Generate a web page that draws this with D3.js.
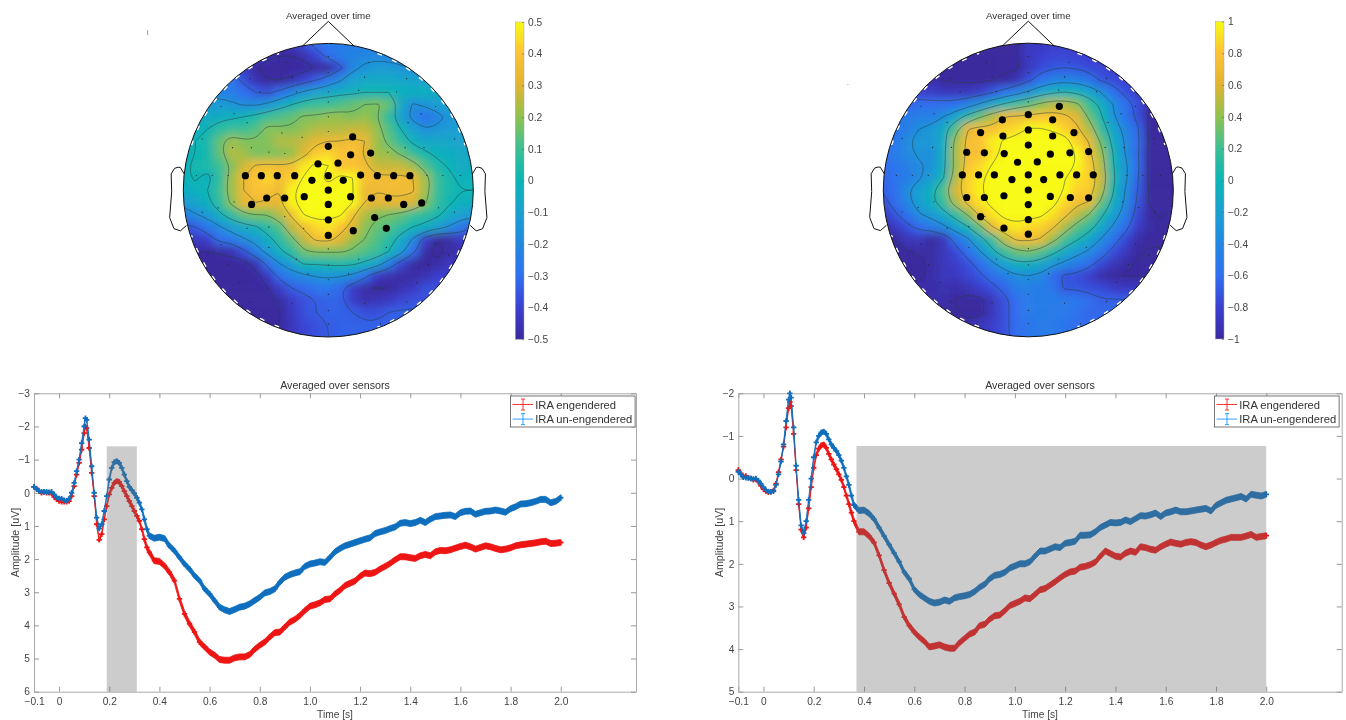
<!DOCTYPE html>
<html>
<head>
<meta charset="utf-8">
<script src="https://cdn.jsdelivr.net/npm/d3@7"></script>
<style>
  html, body { margin: 0; padding: 0; background: #fff; }
  svg { display: block; filter: blur(0.35px); }
  text { font-family: "Liberation Sans", Arial, sans-serif; fill: #444; }
</style>
</head>
<body>
<svg id="chart" width="1346" height="720"></svg>
<script>
// sample times of the averaged curves [s]
const timeSec = [-0.1,-0.09,-0.08,-0.07,-0.06,-0.05,-0.04,-0.03,-0.02,-0.01,0,0.01,0.02,0.03,0.04,0.05,0.06,0.07,0.08,0.09,0.1,0.105,
  0.11,0.12,0.13,0.14,0.15,0.16,0.17,0.18,0.19,0.2,0.21,0.22,0.23,0.24,0.25,0.26,0.27,0.28,0.29,0.3,0.31,0.32,0.33,0.34,0.35,0.36,
  0.38,0.4,0.42,0.44,0.46,0.48,0.5,0.52,0.54,0.56,0.58,0.6,0.62,0.64,0.66,0.68,0.7,0.72,0.74,0.76,0.78,0.8,0.82,0.84,0.86,0.88,0.9,0.92,0.94,0.96,0.98,1,1.02,1.04,1.06,1.08,1.1,
  1.12,1.14,1.16,1.18,1.2,1.22,1.24,1.26,1.28,1.3,1.32,1.34,1.36,1.38,1.4,1.42,1.44,1.46,1.48,1.5,1.52,1.54,1.56,1.58,1.6,1.62,1.64,1.66,1.68,1.7,1.72,1.74,1.76,1.78,1.8,1.82,1.84,1.86,1.88,1.9,1.92,1.94,1.96,1.98,2];

const leftRedAmp = [-0.18,-0.13,-0.05,0,-0.02,0,0,0.02,0.12,0.2,0.25,0.27,0.27,0.27,0.25,0.1,-0.2,-0.55,-0.9,-1.3,-1.8,-2,
  -1.95,-1.35,-0.6,0.1,0.95,1.42,1.25,0.8,0.4,0.05,-0.15,-0.3,-0.35,-0.33,-0.2,-0.05,0.1,0.25,0.4,0.55,0.7,0.85,1.1,1.4,1.65,1.8,
  2.05,2.07,2.2,2.4,2.65,3.2,3.65,3.95,4.2,4.5,4.65,4.8,4.9,5.03,5.05,5.05,4.98,4.95,4.95,4.88,4.72,4.6,4.5,4.35,4.22,4.2,4.05,3.9,3.82,3.7,3.55,3.42,3.38,3.32,3.22,3.2,3.05,
  2.94,2.8,2.73,2.66,2.52,2.42,2.44,2.4,2.3,2.22,2.13,2.02,1.93,1.93,1.96,1.98,1.9,1.86,1.9,1.78,1.74,1.75,1.72,1.67,1.62,1.58,1.63,1.7,1.65,1.6,1.63,1.68,1.72,1.7,1.66,1.6,1.57,1.55,1.53,1.51,1.48,1.46,1.53,1.52,1.5];

const leftBlueAmp = [-0.18,-0.12,-0.05,-0.03,-0.03,-0.03,-0.02,-0.03,0.05,0.14,0.17,0.18,0.22,0.24,0.18,0,-0.3,-0.65,-1,-1.5,-2,-2.25,
  -2.2,-1.6,-0.8,0,0.75,1.08,0.95,0.55,0.1,-0.4,-0.75,-0.92,-0.95,-0.9,-0.75,-0.55,-0.35,-0.18,-0.08,0.02,0.15,0.3,0.5,0.8,1.1,1.3,
  1.37,1.34,1.38,1.6,1.75,1.95,2.15,2.3,2.5,2.65,2.9,3.05,3.25,3.45,3.53,3.58,3.52,3.45,3.42,3.35,3.25,3.15,3.02,2.98,2.9,2.7,2.55,2.47,2.42,2.38,2.22,2.15,2.12,2.08,2.1,1.95,1.78,
  1.68,1.6,1.55,1.5,1.45,1.4,1.36,1.23,1.18,1.14,1.08,1.03,0.92,0.9,0.93,0.9,0.83,0.9,0.8,0.72,0.7,0.68,0.67,0.72,0.6,0.56,0.55,0.65,0.6,0.56,0.55,0.52,0.55,0.59,0.48,0.42,0.34,0.33,0.3,0.26,0.2,0.2,0.3,0.26,0.15];

const rightRedAmp = [-0.2,-0.12,-0.05,-0.06,-0.02,0,0.03,0.02,0.08,0.17,0.25,0.3,0.32,0.31,0.28,0.12,-0.15,-0.45,-0.75,-1.2,-1.65,-1.8,
  -1.7,-1.05,-0.2,0.6,1.2,1.38,1.15,0.7,0.2,-0.25,-0.55,-0.7,-0.78,-0.8,-0.72,-0.58,-0.45,-0.33,-0.22,-0.1,0.03,0.2,0.4,0.6,0.8,1,
  1.25,1.25,1.35,1.5,1.8,2.15,2.45,2.7,2.95,3.25,3.45,3.6,3.72,3.82,3.95,3.93,3.9,3.95,3.98,3.98,3.85,3.75,3.65,3.6,3.45,3.42,3.3,3.22,3.2,3.1,2.98,2.93,2.88,2.8,2.82,2.72,2.61,
  2.58,2.5,2.42,2.33,2.25,2.19,2.17,2.08,2.06,2.02,1.96,1.82,1.7,1.76,1.82,1.84,1.75,1.7,1.73,1.6,1.62,1.66,1.68,1.6,1.54,1.49,1.52,1.54,1.5,1.48,1.5,1.56,1.6,1.56,1.5,1.45,1.42,1.38,1.38,1.38,1.35,1.31,1.38,1.36,1.34];

const rightBlueAmp = [-0.16,-0.1,-0.03,-0.02,-0.01,0,0.01,0,0.05,0.12,0.2,0.27,0.3,0.31,0.3,0.15,-0.1,-0.4,-0.8,-1.35,-1.85,-2,
  -1.9,-1.2,-0.3,0.5,1.1,1.28,1,0.5,0,-0.5,-0.85,-1,-1.08,-1.1,-1.05,-0.92,-0.8,-0.72,-0.65,-0.55,-0.42,-0.25,-0.05,0.15,0.4,0.62,
  0.75,0.74,0.82,0.95,1.15,1.35,1.55,1.75,1.95,2.2,2.35,2.6,2.72,2.8,2.88,2.92,2.9,2.85,2.88,2.8,2.77,2.75,2.72,2.65,2.55,2.48,2.35,2.27,2.25,2.2,2.1,2.05,2,2,1.95,1.82,1.7,
  1.7,1.65,1.6,1.62,1.52,1.5,1.47,1.33,1.33,1.32,1.25,1.15,1.09,1.03,1.04,1.03,0.97,1.01,0.94,0.87,0.88,0.85,0.81,0.89,0.81,0.78,0.74,0.78,0.78,0.76,0.74,0.72,0.7,0.76,0.63,0.57,0.51,0.48,0.45,0.42,0.48,0.37,0.39,0.41,0.37];

// half width of the error bars, stepping at errBreaks [s]
const errBreaks = [0.08, 0.2, 0.34];
const leftErr = [0.03, 0.05, 0.07, 0.09];
const rightErr = [0.025, 0.04, 0.055, 0.07];

const seriesNames = ["IRA engendered", "IRA un-engendered"];
const seriesColors = ["#ee1515", "#0f6fbe"];

const xTicks = [-0.1,0,0.2,0.4,0.6,0.8,1,1.2,1.4,1.6,1.8,2];
const leftYTicks = [-3,-2,-1,0,1,2,3,4,5,6];
const rightYTicks = [-2,-1,0,1,2,3,4,5];
const leftBarTicks = [0.5,0.4,0.3,0.2,0.1,0,-0.1,-0.2,-0.3,-0.4,-0.5];
const rightBarTicks = [1,0.8,0.6,0.4,0.2,0,-0.2,-0.4,-0.6,-0.8,-1];

// scalp maps, values read on a 25x25 grid over the head square (hundredths of uV)
const leftMap = [
  [-35,-35,-35,-35,-35,-35,-35,-35,-35,-35,-30,-25,-22,-20,-20,-20,-20,-20,-20,-20,-20,-20,-20,-20,-20],
  [-35,-35,-35,-35,-35,-35,-35,-38,-42,-42,-38,-32,-25,-20,-18,-17,-17,-18,-20,-20,-20,-20,-20,-20,-20],
  [-35,-35,-35,-35,-35,-35,-42,-48,-50,-50,-47,-42,-42,-30,-17,-12,-10,-10,-12,-15,-18,-18,-18,-18,-18],
  [-25,-25,-25,-25,-22,-30,-38,-42,-42,-38,-33,-28,-22,-15,-8,-5,-5,-5,-6,-7,-8,-10,-10,-10,-10],
  [-18,-18,-18,-18,-20,-25,-28,-30,-25,-18,-12,-8,-5,-3,-2,0,0,0,-2,-3,-2,-5,-8,-8,-8],
  [-10,-10,-10,-10,-12,-15,-15,-12,-5,0,5,8,8,10,12,14,15,12,-5,-15,-12,-8,-8,-8,-8],
  [-8,-5,-5,-3,-2,0,3,8,10,12,15,15,17,17,15,17,14,5,-8,-17,-24,-18,-12,-10,-10],
  [-5,-3,0,5,8,8,10,16,15,15,17,20,20,20,22,22,17,10,0,-8,-14,-12,-10,-8,-8],
  [-3,0,3,12,18,15,15,15,20,20,22,26,28,28,30,28,18,12,5,-2,-6,-5,-6,-8,-8],
  [-3,0,2,12,20,18,14,15,15,17,25,34,36,32,33,27,18,17,13,7,2,-2,-3,-5,-6],
  [-2,2,3,8,15,23,29,30,29,30,38,45,42,33,32,30,22,22,22,18,10,3,-1,-4,-3],
  [-2,1,-3,6,18,28,33,36,30,35,43,46,38,45,42,32,30,30,30,28,18,7,2,-2,-1],
  [-3,-2,0,8,18,28,32,32,28,40,47,48,47,47,43,28,28,30,30,29,18,7,2,0,0],
  [-10,-6,-2,6,16,27,28,27,27,40,47,50,50,47,42,28,26,26,26,24,15,7,1,-2,-3],
  [-20,-15,-10,-2,6,12,14,14,20,30,42,46,45,43,30,20,15,14,12,8,6,2,-4,-8,-10],
  [-30,-28,-22,-15,-8,-4,-1,5,10,22,30,36,38,32,25,16,12,10,5,0,-3,-8,-15,-22,-28],
  [-40,-35,-33,-25,-22,-15,-10,-3,5,12,22,30,31,25,18,14,10,5,-4,-15,-33,-42,-40,-35,-35],
  [-40,-42,-42,-40,-38,-30,-20,-10,-2,6,13,15,15,15,13,10,8,0,-10,-25,-40,-46,-40,-38,-38],
  [-45,-45,-45,-47,-48,-45,-38,-25,-14,-8,1,1,2,3,2,-2,-8,-20,-32,-40,-42,-40,-36,-36,-36],
  [-47,-47,-47,-48,-50,-49,-45,-35,-25,-18,-16,-13,-12,-13,-16,-25,-35,-38,-40,-40,-38,-33,-33,-33,-33],
  [-48,-48,-48,-48,-50,-50,-49,-42,-34,-28,-26,-23,-22,-26,-34,-40,-43,-42,-38,-35,-30,-30,-30,-30,-30],
  [-48,-48,-48,-48,-48,-50,-50,-46,-40,-34,-30,-28,-27,-27,-34,-38,-37,-35,-32,-30,-30,-30,-30,-30,-30],
  [-49,-49,-49,-49,-49,-49,-48,-46,-42,-35,-30,-28,-27,-27,-28,-30,-30,-28,-27,-27,-27,-27,-27,-27,-27],
  [-46,-46,-46,-46,-46,-46,-46,-46,-42,-36,-32,-30,-28,-27,-27,-27,-27,-27,-27,-27,-27,-27,-27,-27,-27],
  [-46,-46,-46,-46,-46,-46,-46,-44,-40,-36,-32,-30,-28,-27,-27,-27,-27,-27,-27,-27,-27,-27,-27,-27,-27]
];

const rightMap = [
  [-85,-85,-85,-85,-85,-85,-85,-85,-85,-85,-85,-85,-72,-70,-68,-66,-68,-68,-68,-68,-68,-68,-68,-68,-68],
  [-85,-85,-85,-85,-85,-85,-85,-85,-85,-85,-85,-85,-70,-66,-64,-64,-65,-66,-66,-66,-66,-66,-66,-66,-66],
  [-85,-85,-85,-85,-85,-85,-85,-85,-85,-85,-85,-88,-72,-62,-58,-56,-58,-62,-64,-65,-65,-65,-65,-65,-65],
  [-70,-70,-70,-70,-78,-85,-87,-88,-88,-85,-82,-75,-60,-48,-38,-35,-38,-45,-58,-62,-65,-70,-70,-70,-70],
  [-62,-62,-62,-65,-68,-72,-72,-72,-68,-58,-48,-38,-25,-12,-3,0,-3,-12,-28,-48,-60,-68,-70,-70,-70],
  [-55,-55,-52,-50,-50,-50,-48,-38,-25,-10,3,15,22,32,40,40,32,15,-5,-28,-48,-60,-80,-85,-85],
  [-50,-48,-42,-38,-38,-28,-12,8,25,40,55,58,60,65,65,60,50,25,3,-25,-45,-60,-88,-92,-95],
  [-48,-45,-38,-28,-22,-8,20,55,62,62,70,72,85,85,80,70,60,40,12,-12,-35,-52,-88,-95,-95],
  [-48,-45,-30,-22,-22,-8,35,62,65,78,86,95,100,100,100,95,70,55,25,-5,-30,-50,-85,-95,-95],
  [-48,-42,-32,-25,-28,-5,38,62,62,75,90,100,100,100,100,98,82,62,35,0,-28,-52,-88,-95,-95],
  [-50,-45,-38,-30,-25,-5,35,65,72,85,95,100,100,100,100,95,82,68,40,2,-22,-50,-88,-95,-95],
  [-52,-46,-40,-30,-18,0,40,70,78,95,100,100,100,100,100,85,75,70,45,5,-22,-52,-88,-95,-92],
  [-55,-48,-30,-15,-5,20,48,70,80,98,100,100,100,100,100,82,70,68,40,2,-28,-55,-85,-92,-88],
  [-60,-50,-35,-15,-5,15,38,62,75,92,100,100,100,100,92,72,62,55,25,-5,-30,-58,-85,-90,-88],
  [-72,-58,-45,-30,-20,-8,10,30,60,75,90,95,92,88,75,62,42,28,5,-15,-38,-62,-82,-85,-80],
  [-80,-70,-60,-50,-42,-32,-15,0,25,55,72,78,72,70,60,38,22,10,-10,-30,-50,-68,-80,-82,-82],
  [-88,-82,-72,-72,-82,-72,-48,-30,-8,15,40,60,62,55,35,18,3,-12,-28,-48,-62,-78,-82,-82,-82],
  [-92,-92,-85,-80,-80,-72,-62,-48,-28,-5,15,25,28,22,8,-8,-20,-30,-45,-60,-70,-82,-85,-85,-85],
  [-88,-88,-88,-90,-80,-72,-68,-60,-50,-32,-15,-5,-3,-10,-22,-32,-40,-50,-62,-72,-80,-85,-88,-88,-88],
  [-88,-88,-88,-88,-78,-72,-70,-64,-58,-50,-40,-30,-28,-32,-50,-58,-60,-68,-78,-82,-85,-85,-85,-85,-85],
  [-78,-78,-78,-78,-78,-76,-78,-74,-66,-60,-52,-40,-38,-40,-45,-58,-58,-60,-62,-68,-70,-70,-70,-70,-70],
  [-78,-78,-78,-78,-78,-78,-85,-92,-90,-72,-60,-50,-42,-40,-40,-42,-45,-50,-55,-55,-55,-55,-55,-55,-55],
  [-82,-82,-82,-82,-82,-82,-82,-92,-90,-72,-60,-50,-42,-40,-42,-42,-48,-52,-52,-52,-52,-52,-52,-52,-52],
  [-78,-78,-78,-78,-78,-78,-78,-78,-72,-68,-60,-50,-45,-42,-42,-45,-50,-50,-50,-50,-50,-50,-50,-50,-50],
  [-78,-78,-78,-78,-78,-78,-78,-78,-72,-68,-60,-50,-45,-42,-42,-45,-50,-50,-50,-50,-50,-50,-50,-50,-50]
];

const leftLevels = [-42,-28,-14,0,14,28,42];
const rightLevels = [-84,-56,-28,0,28,56,84];

// the blocky source map clips at the bar ends, so the grid reads a bit flat
const mapGain = 1.22;

// parula like colours bottom to top
const barColors = ["#3a2a9e","#3b3fd0","#3070f0","#2188e0","#1aa0d0","#0bb5b5","#3cbf95","#8fc24f","#e0b432","#fdc236","#f8fa14"];

// sensors, head units (x right, y up, 1 = rim)
const allSensors = [[-0.29,0.87],[-0.25,0.77],[0,0.91],[0,0.8],[0.28,0.87],[0.25,0.77],[0.54,0.76],[-0.54,0.76],[-0.74,0.57],[0.74,0.57],
  [-0.65,0.52],[0.64,0.52],[-0.56,0.46],[0.55,0.46],[-0.47,0.67],[-0.22,0.67],[0,0.67],[0.21,0.68],[0.47,0.67],[0,0.6],[0,0.5],[0,0.4],
  [-0.32,0.39],[-0.18,0.36],[-0.41,0.26],[-0.3,0.25],[-0.53,0.29],[-0.66,0.29],[-0.87,0.35],[0.87,0.35],[0.66,0.29],[0.53,0.29],[0.41,0.26],
  [-0.91,0.1],[-0.8,0.1],[-0.69,0.1],[0.68,0.1],[0.79,0.1],[0.91,0.1],[-0.76,-0.12],[-0.65,-0.08],[-0.87,-0.15],[0.87,-0.15],[0.76,-0.12],[0.65,-0.08],
  [-0.74,-0.37],[0.74,-0.37],[-0.56,-0.26],[-0.41,-0.25],[-0.3,-0.18],[-0.17,-0.26],[-0.83,-0.44],[0.83,-0.44],[-0.69,-0.51],[0.69,-0.51],
  [-0.61,-0.63],[0.61,-0.63],[-0.41,-0.39],[0.4,-0.39],[-0.22,-0.47],[0.21,-0.47],[0,-0.4],[0,-0.51],[0,-0.61],[0,-0.71],[0,-0.82],[0,-0.91],
  [-0.14,-0.57],[0.14,-0.57],[-0.25,-0.77],[0.25,-0.77],[-0.36,-0.91],[0.36,-0.91],[-0.54,-0.76],[0.54,-0.76]];

const leftSig = [[0.168,0.363],[0,0.299],[0.154,0.241],[0.292,0.253],[-0.071,0.179],[0.067,0.184],[-0.572,0.099],[-0.462,0.099],[-0.352,0.099],[-0.232,0.099],
  [0,0.099],[0.223,0.103],[0.338,0.099],[0.451,0.099],[0.563,0.099],[-0.113,0.067],[0.103,0.067],[0,0],[-0.425,-0.053],[-0.301,-0.053],[-0.166,-0.044],[0.154,-0.044],
  [0.297,-0.053],[0.414,-0.053],[-0.529,-0.097],[0,-0.097],[0.52,-0.097],[0.644,-0.087],[0,-0.202],[0.32,-0.186],[0.172,-0.276],[0.4,-0.26],[0,-0.308]];

const rightSig = [[0.214,0.57],[0,0.513],[-0.179,0.478],[0.168,0.478],[0,0.409],[-0.329,0.391],[-0.175,0.368],[0.168,0.368],[0.315,0.391],[0,0.306],
  [-0.425,0.257],[-0.303,0.253],[-0.166,0.248],[0.152,0.244],[0.287,0.253],[0.416,0.262],[-0.074,0.189],[0.062,0.191],[-0.455,0.103],[-0.343,0.103],[-0.234,0.103],
  [0,0.103],[0.218,0.103],[0.333,0.103],[0.448,0.103],[-0.113,0.071],[0.106,0.071],[0,0],[-0.425,-0.051],[-0.303,-0.051],[-0.168,-0.039],[0.152,-0.044],[0.29,-0.051],
  [0.416,-0.053],[0,-0.099],[-0.329,-0.182],[0,-0.202],[-0.168,-0.26],[0,-0.301]];

// head outline in the usual layout units (rim radius 0.5)
const noseX = [-0.09, 0, 0.09];
const noseY = [0.49, 0.575, 0.49];
const earX = [0.497,0.51,0.518,0.5299,0.5419,0.54,0.547,0.532,0.51,0.489];
const earY = [0.0555,0.0775,0.0783,0.0746,0.0555,-0.0055,-0.0932,-0.1313,-0.1384,-0.1199];

const svg = d3.select("#chart");
const fmtMinus = v => String(v).replace("-", "\u2212");

function drawTopo(cfg) {
  const g = svg.append("g");
  const hx = d3.scaleLinear().domain([-1, 1]).range([cfg.cx - cfg.rx, cfg.cx + cfg.rx]);
  const hy = d3.scaleLinear().domain([-1, 1]).range([cfg.cy + cfg.ry, cfg.cy - cfg.ry]);
  const color = d3.scaleLinear()
    .domain(d3.range(barColors.length).map(i => cfg.max * (2 * i / (barColors.length - 1) - 1)))
    .range(barColors)
    .clamp(true);

  const n = cfg.map.length;
  const step = 2 / (n - 1);
  const cw = hx(step) - hx(0);

  svg.append("clipPath").attr("id", cfg.id + "-clip")
    .append("ellipse").attr("cx", cfg.cx).attr("cy", cfg.cy).attr("rx", cfg.rx).attr("ry", cfg.ry);
  svg.append("filter").attr("id", cfg.id + "-blur")
    .attr("x", "-10%").attr("y", "-10%").attr("width", "120%").attr("height", "120%")
    .append("feGaussianBlur").attr("stdDeviation", 4);

  // heat cells, blurred and cut to the head
  const cells = [];
  cfg.map.forEach((row, j) => row.forEach((v, i) => cells.push({ i, j, v })));
  const pad = d => (d === 0 || d === n - 1) ? 20 : 0;
  g.append("g").attr("clip-path", `url(#${cfg.id}-clip)`)
    .append("g").attr("filter", `url(#${cfg.id}-blur)`)
    .selectAll("rect").data(cells).enter().append("rect")
    .attr("x", d => hx(d.i * step - 1) - cw / 2 - (d.i === 0 ? 20 : 0))
    .attr("y", d => hy(1 - d.j * step) - cw / 2 - (d.j === 0 ? 20 : 0))
    .attr("width", d => cw + 0.6 + pad(d.i))
    .attr("height", d => cw + 0.6 + pad(d.j))
    .attr("fill", d => color(d.v * mapGain / 100));

  // contour lines
  const rings = d3.contours().size([n, n]).thresholds(cfg.levels)(cfg.map.flat());
  const ringLine = d3.line()
    .x(p => hx((p[0] - 0.5) * step - 1))
    .y(p => hy(1 - (p[1] - 0.5) * step))
    .curve(d3.curveBasisClosed);
  const ringData = [];
  rings.forEach(c => c.coordinates.forEach(poly => poly.forEach(r => ringData.push(r.slice(0, -1)))));
  g.append("g").attr("clip-path", `url(#${cfg.id}-clip)`)
    .selectAll("path").data(ringData).enter().append("path")
    .attr("d", ringLine)
    .attr("fill", "none")
    .attr("stroke", "#23403f")
    .attr("stroke-opacity", 0.85)
    .attr("stroke-width", 0.6);

  // white steps left by the pixel mask on the rim, only on the diagonals
  const rimArc = d3.arc().innerRadius(cfg.rx - 1.2).outerRadius(cfg.rx - 1.2);
  g.append("g").attr("transform", `translate(${cfg.cx},${cfg.cy}) scale(1,${cfg.ry / cfg.rx})`)
    .selectAll("path").data([[20, 72], [108, 160], [200, 252], [288, 340]]).enter().append("path")
    .attr("d", d => rimArc({ startAngle: d[0] * Math.PI / 180, endAngle: d[1] * Math.PI / 180 }))
    .attr("fill", "none").attr("stroke", "#fff").attr("stroke-width", 1.6)
    .attr("stroke-dasharray", "3 13");

  // sensors
  g.append("g").selectAll("circle").data(allSensors).enter().append("circle")
    .attr("cx", d => hx(d[0])).attr("cy", d => hy(d[1])).attr("r", 0.6).attr("fill", "#222");
  g.append("g").selectAll("circle").data(cfg.sig).enter().append("circle")
    .attr("cx", d => hx(d[0])).attr("cy", d => hy(d[1])).attr("r", 3.6).attr("fill", "#000");

  // head, nose, ears
  const ux = d3.scaleLinear().domain([-0.5, 0.5]).range([hx(-1), hx(1)]);
  const uy = d3.scaleLinear().domain([-0.5, 0.5]).range([hy(-1), hy(1)]);
  g.append("ellipse").attr("cx", cfg.cx).attr("cy", cfg.cy).attr("rx", cfg.rx).attr("ry", cfg.ry)
    .attr("fill", "none").attr("stroke", "#111").attr("stroke-width", 1);
  const outline = d3.line().x(d => ux(d[0])).y(d => uy(d[1]));
  const head = [d3.zip(noseX, noseY), d3.zip(earX, earY), d3.zip(earX.map(v => -v), earY)];
  g.append("g").selectAll("path").data(head).enter().append("path")
    .attr("d", outline).attr("fill", "none").attr("stroke", "#111").attr("stroke-width", 1);

  g.append("text").attr("x", cfg.cx).attr("y", 19).attr("text-anchor", "middle")
    .attr("font-size", 9.8).style("fill", "#333").text("Averaged over time");

  // colour bar
  const barY = d3.scaleLinear().domain([-cfg.max, cfg.max]).range([cfg.barBottom, cfg.barTop]);
  const grad = svg.append("linearGradient").attr("id", cfg.id + "-grad")
    .attr("x1", 0).attr("x2", 0).attr("y1", 1).attr("y2", 0);
  grad.selectAll("stop").data(barColors).enter().append("stop")
    .attr("offset", (d, i) => i / (barColors.length - 1))
    .attr("stop-color", d => d);
  g.append("rect").attr("x", cfg.barX).attr("y", cfg.barTop)
    .attr("width", 8.7).attr("height", cfg.barBottom - cfg.barTop)
    .attr("fill", `url(#${cfg.id}-grad)`).attr("stroke", "#aaa").attr("stroke-width", 0.5);
  const barAxis = d3.axisRight(barY).tickValues(cfg.barTicks)
    .tickSizeInner(-2).tickSizeOuter(0).tickPadding(4).tickFormat(fmtMinus);
  const ba = g.append("g").attr("transform", `translate(${cfg.barX + 8.7},0)`).call(barAxis);
  ba.select(".domain").remove();
  ba.selectAll("line").attr("stroke", "#666").attr("stroke-width", 0.6);
  ba.selectAll("text").attr("font-size", 10.2).attr("font-family", null);
}

function drawErp(cfg) {
  const g = svg.append("g");
  const x = d3.scaleLinear().domain([-0.1, 2.3]).range([cfg.left, cfg.right]);
  const y = d3.scaleLinear().domain(cfg.yDomain).range([cfg.top, cfg.bottom]);
  const err = d3.scaleThreshold().domain(errBreaks).range(cfg.err);
  const tickFmt = v => v === 0 ? "0" : d3.format(".1f")(v);

  const axisStyle = sel => {
    sel.select(".domain").attr("stroke", "#aaa");
    sel.selectAll("line").attr("stroke", "#999");
    sel.selectAll("text").attr("font-size", 10.2).attr("font-family", null);
  };
  g.append("g").attr("transform", `translate(0,${cfg.bottom})`)
    .call(d3.axisBottom(x).tickValues(xTicks).tickFormat(tickFmt).tickSizeInner(-5).tickSizeOuter(0).tickPadding(6)).call(axisStyle);
  g.append("g").attr("transform", `translate(0,${cfg.top})`)
    .call(d3.axisTop(x).tickValues(xTicks).tickFormat("").tickSizeInner(-5).tickSizeOuter(0)).call(axisStyle);
  g.append("g").attr("transform", `translate(${cfg.left},0)`)
    .call(d3.axisLeft(y).tickValues(cfg.yTicks).tickFormat(d3.format("d")).tickSizeInner(-5).tickSizeOuter(0).tickPadding(4)).call(axisStyle);
  g.append("g").attr("transform", `translate(${cfg.right},0)`)
    .call(d3.axisRight(y).tickValues(cfg.yTicks).tickFormat("").tickSizeInner(-5).tickSizeOuter(0)).call(axisStyle);

  cfg.series.forEach((amp, k) => {
    const pts = timeSec.map((t, i) => ({ t, a: amp[i] }));
    const s = g.append("g");
    s.append("path").datum(pts)
      .attr("d", d3.area().x(d => x(d.t)).y0(d => y(d.a - err(d.t))).y1(d => y(d.a + err(d.t))))
      .attr("fill", seriesColors[k]).attr("stroke", seriesColors[k]).attr("stroke-width", 0.8);
    s.append("g").selectAll("path").data(pts).enter().append("path")
      .attr("d", d3.symbol(d3.symbolCross, 16))
      .attr("transform", d => `translate(${x(d.t)},${y(d.a)})`)
      .attr("fill", seriesColors[k]);
  });

  // significant window, laid over the curves
  g.append("rect")
    .attr("x", x(cfg.win[0])).attr("width", x(cfg.win[1]) - x(cfg.win[0]))
    .attr("y", y(cfg.winTop)).attr("height", cfg.bottom - y(cfg.winTop))
    .attr("fill", "#6d6d6d").attr("fill-opacity", 0.35);

  g.append("text").attr("x", (cfg.left + cfg.right) / 2).attr("y", 389).attr("text-anchor", "middle")
    .attr("font-size", 10.7).style("fill", "#333").text("Averaged over sensors");
  g.append("text").attr("x", (cfg.left + cfg.right) / 2).attr("y", 718).attr("text-anchor", "middle")
    .attr("font-size", 10.2).text("Time [s]");
  g.append("text").attr("transform", `translate(${cfg.left - 15.5},${(cfg.top + cfg.bottom) / 2}) rotate(-90)`)
    .attr("text-anchor", "middle").attr("font-size", 10.7).text("Amplitude [uV]");

  // legend
  const lg = g.append("g").attr("transform", `translate(${cfg.legendX},396)`);
  lg.append("rect").attr("width", 124.6).attr("height", 31)
    .attr("fill", "#fff").attr("stroke", "#555").attr("stroke-width", 0.8);
  const rows = lg.selectAll("g").data(seriesNames).enter().append("g")
    .attr("transform", (d, i) => `translate(0,${8.5 + i * 14.6})`);
  rows.append("line").attr("x1", 2).attr("x2", 22.5)
    .attr("stroke", (d, i) => d3.color(seriesColors[i]).brighter(0.9)).attr("stroke-width", 0.9);
  rows.append("path").attr("d", "M10.5,-5.5H14.5M12.5,-5.5V5.5M10.5,5.5H14.5").attr("fill", "none")
    .attr("stroke", (d, i) => d3.color(seriesColors[i]).brighter(0.9)).attr("stroke-width", 0.9);
  rows.append("text").attr("x", 24.7).attr("y", 4.2).attr("font-size", 11.2).style("fill", "#333").text(d => d);
}

drawTopo({ id: "tl", cx: 328.3, cy: 190.2, rx: 145, ry: 146.8, map: leftMap, levels: leftLevels, sig: leftSig, max: 0.5,
  barX: 515.3, barTop: 22, barBottom: 339.3, barTicks: leftBarTicks });
drawTopo({ id: "tr", cx: 1028.3, cy: 190, rx: 145, ry: 146.8, map: rightMap, levels: rightLevels, sig: rightSig, max: 1,
  barX: 1215.3, barTop: 21.5, barBottom: 339, barTicks: rightBarTicks });

drawErp({ left: 34, right: 636, top: 393.3, bottom: 691.7, yDomain: [-3, 6], yTicks: leftYTicks,
  series: [leftRedAmp, leftBlueAmp], err: leftErr, win: [0.19, 0.31], winTop: -1.4, legendX: 510.5 });
drawErp({ left: 738.3, right: 1341.7, top: 393.3, bottom: 691.7, yDomain: [-2, 5], yTicks: rightYTicks,
  series: [rightRedAmp, rightBlueAmp], err: rightErr, win: [0.37, 2], winTop: -0.763, legendX: 1214.5 });

// stray marks left on the source figure
svg.append("text").attr("x", 147).attr("y", 35).attr("font-size", 7).style("fill", "#666").text("i");
svg.append("text").attr("x", 847).attr("y", 85).attr("font-size", 7).style("fill", "#666").text(".");
</script>
</body>
</html>
